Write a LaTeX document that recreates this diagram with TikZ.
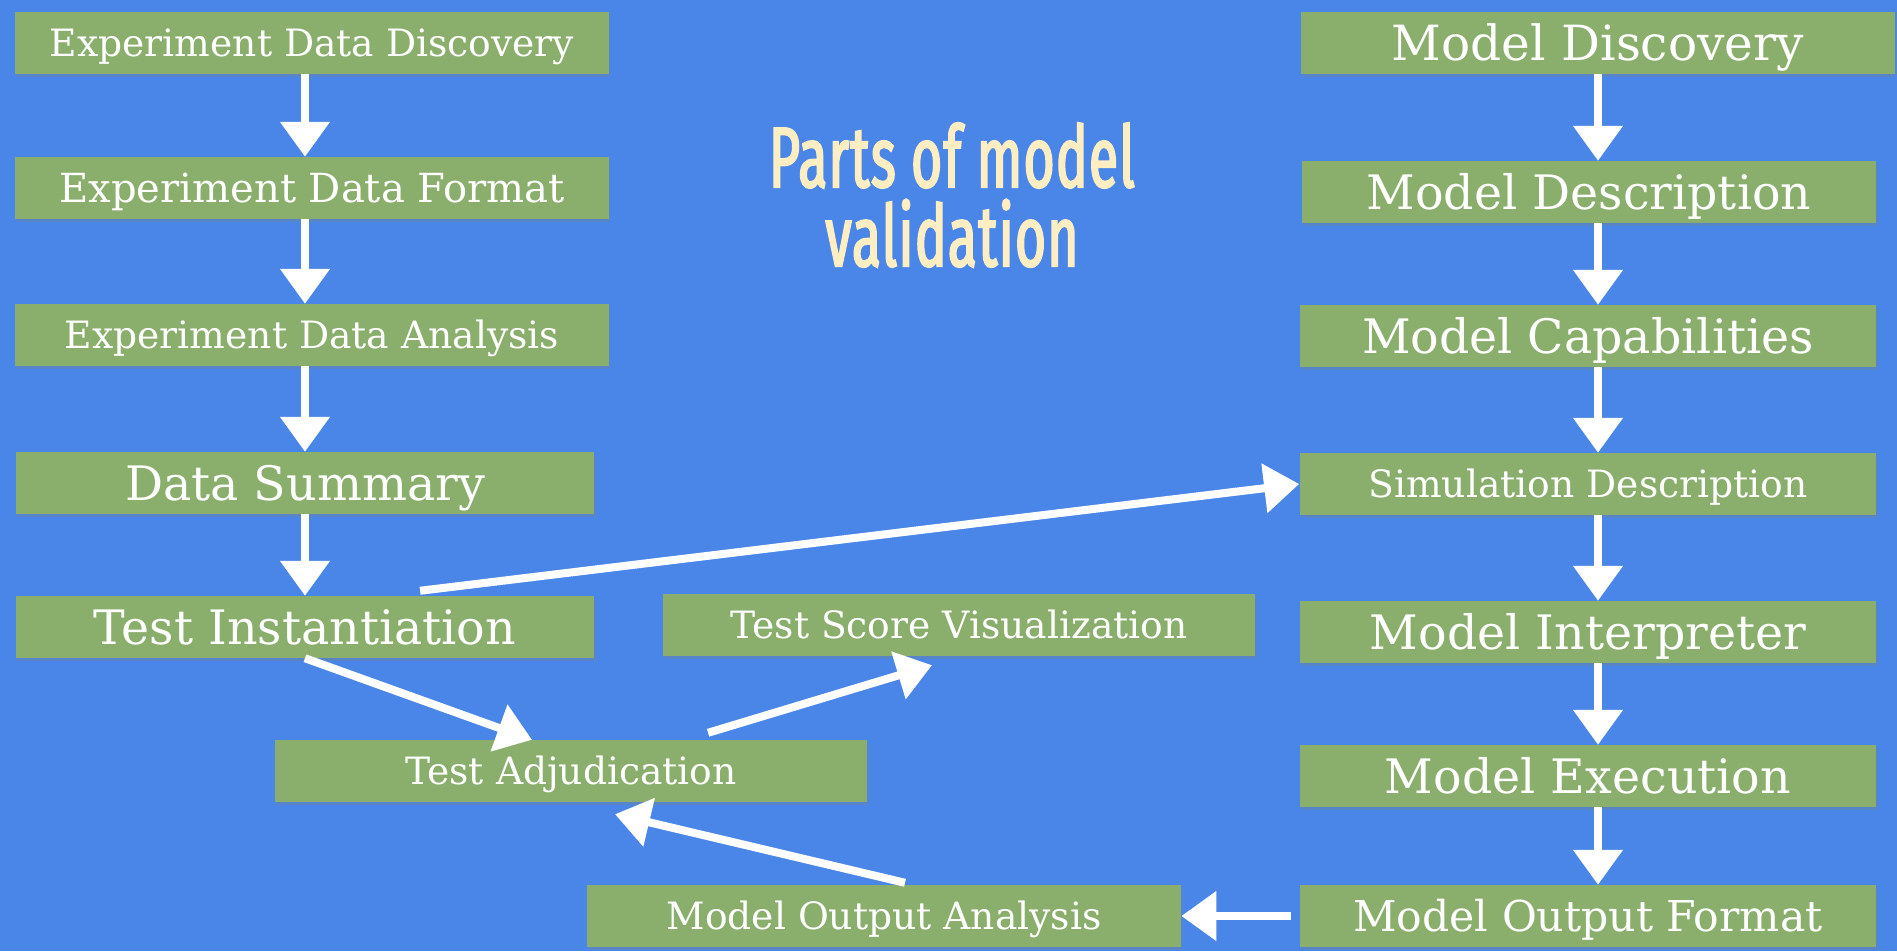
\documentclass[tikz,border=0pt]{standalone}
\usepackage{fontspec}
\setmainfont{DejaVu Serif}
\newfontfamily\titlefont{Fira Sans}[FakeStretch=0.62, FakeBold=2.2, LetterSpace=1.5]
\usetikzlibrary{arrows.meta, shadows}

\definecolor{slideblue}{HTML}{4A86E8}
\definecolor{boardgreen}{HTML}{8AAE6C}
\definecolor{cream}{HTML}{FFEEC2}

\begin{document}
\begin{tikzpicture}[
    x=0.01cm, y=-0.01cm,
    stage/.style={rectangle, fill=boardgreen, text=white, minimum height=0.61cm,
        inner sep=0pt, text depth=0pt,
        drop shadow={shadow xshift=0.4pt, shadow yshift=-1pt, opacity=0.3}},
    lbl/.style={font=\fontsize{#1}{16}\selectfont, text height=0.73*#1pt},
    small/.style={lbl=10.7},
    big/.style={lbl=13.5},
    chalk/.style={draw=white, line width=0.08cm,
        -{Triangle[width=0.48cm, length=0.35cm]}},
    >=Stealth
]

% Background
\fill[slideblue] (0,0) rectangle (1897,951);
\useasboundingbox (0,0) rectangle (1897,951);

% Title
\node[text=cream, align=center, font=\titlefont\fontsize{24.4}{22.5}\selectfont]
    (title) at (952,195) {Parts of model\\validation};

% Column 1: experiment side
\node[stage, small, minimum width=5.93cm] (edd) at (312,43) {Experiment Data Discovery};
\node[stage, lbl=11.4, minimum width=5.93cm] (edf) at (312,188) {Experiment Data Format};
\node[stage, small, minimum width=5.93cm] (eda) at (312,335) {Experiment Data Analysis};
\node[stage, big, minimum width=5.78cm] (ds) at (305,483) {Data Summary};
\node[stage, big, minimum width=5.78cm] (ti) at (305,627) {Test Instantiation};

% Middle: scoring
\node[stage, small, minimum width=5.92cm] (tsv) at (959,625) {Test Score Visualization};
\node[stage, small, minimum width=5.92cm] (ta) at (571,771) {Test Adjudication};
\node[stage, small, minimum width=5.93cm] (moa) at (884,916) {Model Output Analysis};

% Column 2: model side
\node[stage, lbl=13.8, minimum width=5.93cm] (md) at (1598,43) {Model Discovery};
\node[stage, big, minimum width=5.74cm] (mdesc) at (1589,192) {Model Description};
\node[stage, big, minimum width=5.76cm] (mc) at (1588,336) {Model Capabilities};
\node[stage, small, minimum width=5.76cm] (sd) at (1588,484) {Simulation Description};
\node[stage, big, minimum width=5.76cm] (mi) at (1588,632) {Model Interpreter};
\node[stage, big, minimum width=5.76cm] (me) at (1588,776) {Model Execution};
\node[stage, lbl=12.1, minimum width=5.76cm] (mof) at (1588,916) {Model Output Format};

% Arrow columns
\coordinate (lcol) at (305,0);
\coordinate (rcol) at (1598,0);

% Edges: experiment chain
\draw[chalk] (edd.south -| lcol) -- (edf.north -| lcol);
\draw[chalk] (edf.south -| lcol) -- (eda.north -| lcol);
\draw[chalk] (eda.south -| lcol) -- (ds.north -| lcol);
\draw[chalk] (ds.south -| lcol) -- (ti.north -| lcol);

% Edges: model chain
\draw[chalk] (md.south -| rcol) -- (mdesc.north -| rcol);
\draw[chalk] (mdesc.south -| rcol) -- (mc.north -| rcol);
\draw[chalk] (mc.south -| rcol) -- (sd.north -| rcol);
\draw[chalk] (sd.south -| rcol) -- (mi.north -| rcol);
\draw[chalk] (mi.south -| rcol) -- (me.north -| rcol);
\draw[chalk] (me.south -| rcol) -- (mof.north -| rcol);

% Edges: across
\draw[chalk] ([xshift=1.15cm, yshift=0.05cm]ti.north) -- (sd.west);
\draw[chalk] (ti.south) -- ([xshift=-0.39cm]ta.north);
\draw[chalk] ([xshift=1.37cm, yshift=0.07cm]ta.north) -- ([xshift=-0.27cm, yshift=-0.09cm]tsv.south);
\draw[chalk] ([xshift=0.21cm, yshift=0.02cm]moa.north) -- ([xshift=0.44cm, yshift=-0.12cm]ta.south);
\draw[chalk] ([xshift=-0.08cm]mof.west) -- (moa.east);

\end{tikzpicture}
\end{document}
